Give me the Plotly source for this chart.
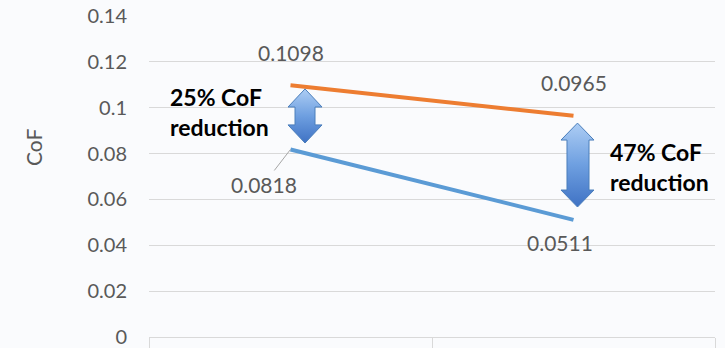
import plotly.graph_objects as go

# ---- data ----
categories = ["Condition 1", "Condition 2"]
series_top = [0.1098, 0.0965]      # orange
series_bottom = [0.0818, 0.0511]   # blue
y_ticks = [0, 0.02, 0.04, 0.06, 0.08, 0.1, 0.12, 0.14]
y_tick_labels = ["0", "0.02", "0.04", "0.06", "0.08", "0.1", "0.12", "0.14"]
notes = ["25% CoF<br>reduction", "47% CoF<br>reduction"]

ORANGE = "#ED7D31"
BLUE = "#5B9BD5"
GRAY = "#595959"
GRID = "#D9D9D9"
BG = "#FAFBFD"
FONT = "Lato"

fig = go.Figure()
fig.add_trace(go.Scatter(x=categories, y=series_top, mode="lines",
                         line=dict(color=ORANGE, width=4), showlegend=False))
fig.add_trace(go.Scatter(x=categories, y=series_bottom, mode="lines",
                         line=dict(color=BLUE, width=4), showlegend=False))

# double-headed block arrows (annotation graphics), x in paper-like units on xaxis2
def arrow(x0, x1, s0, s1, ytop, ybot, head):
    xm = (x0 + x1) / 2
    xs = [xm, x1, s1, s1, x1, xm, x0, s0, s0, x0, xm]
    ys = [ytop, ytop - head, ytop - head, ybot + head, ybot + head, ybot,
          ybot + head, ybot + head, ytop - head, ytop - head, ytop]
    return go.Scatter(x=xs, y=ys, xaxis="x2", mode="lines", fill="toself",
                      line=dict(color="#4A7EBB", width=1),
                      fillgradient=dict(type="vertical",
                                        colorscale=[[0, "#3F72C4"], [0.5, "#6E9FE0"], [1, "#ADCDF4"]]),
                      showlegend=False, hoverinfo="skip")

fig.add_trace(arrow(0.2456, 0.3057, 0.258, 0.2933, 0.1082, 0.0846, 0.0079))
fig.add_trace(arrow(0.7279, 0.7862, 0.7385, 0.7774, 0.0933, 0.0567, 0.0074))

# data labels
LBL = dict(family=FONT, size=21, color=GRAY)
fig.add_annotation(x=categories[0], y=series_top[0], text=f"{series_top[0]:.4f}",
                   showarrow=False, yshift=33, font=LBL)
fig.add_annotation(x=categories[1], y=series_top[1], text=f"{series_top[1]:.4f}",
                   showarrow=False, yshift=33, font=LBL)
fig.add_annotation(x=categories[0], y=series_bottom[0], text=f"{series_bottom[0]:.4f}",
                   showarrow=True, arrowhead=0, arrowwidth=1, arrowcolor="#A6A6A6",
                   ax=-27, ay=35, font=LBL)
fig.add_annotation(x=categories[1], y=series_bottom[1], text=f"{series_bottom[1]:.4f}",
                   showarrow=False, xshift=-14, yshift=-23, font=LBL)

# bold notes
fig.add_annotation(xref="paper", yref="paper", x=(168 - 149) / 566, y=(337 - 112) / 321,
                   text=f"<b>{notes[0]}</b>", showarrow=False, xanchor="left", yanchor="middle",
                   align="left", font=dict(family=FONT, size=23, color="#000000"))
fig.add_annotation(xref="paper", yref="paper", x=(608 - 149) / 566, y=(337 - 167) / 321,
                   text=f"<b>{notes[1]}</b>", showarrow=False, xanchor="left", yanchor="middle",
                   align="left", font=dict(family=FONT, size=23, color="#000000"))

# y-axis title
fig.add_annotation(xref="paper", yref="paper", x=(33 - 149) / 566, y=(337 - 147) / 321,
                   text="CoF", textangle=-90, showarrow=False, xanchor="center", yanchor="middle",
                   font=dict(family=FONT, size=21, color=GRAY))

fig.update_layout(
    width=725, height=348,
    margin=dict(l=149, r=10, t=16, b=11),
    paper_bgcolor=BG, plot_bgcolor=BG,
    font=dict(family=FONT, color=GRAY),
    xaxis=dict(type="category", range=[-0.5, 1.5], showgrid=False, showline=True,
               linecolor=GRID, linewidth=1, ticks="outside", tickson="boundaries",
               ticklen=20, tickcolor=GRID, showticklabels=False, zeroline=False,
               automargin=False),
    xaxis2=dict(range=[0, 1], overlaying="x", visible=False),
    yaxis=dict(range=[0, 0.14], tickvals=y_ticks, ticktext=y_tick_labels,
               showgrid=True, gridcolor=GRID, gridwidth=1, zeroline=False,
               showline=False, ticks="", ticklabelstandoff=21, automargin=False,
               tickfont=dict(family=FONT, size=20, color=GRAY)),
)

fig.write_html("out.html", config={"displayModeBar": False},
               post_script="document.body.style.margin='0';document.body.style.background='%s';" % BG)
